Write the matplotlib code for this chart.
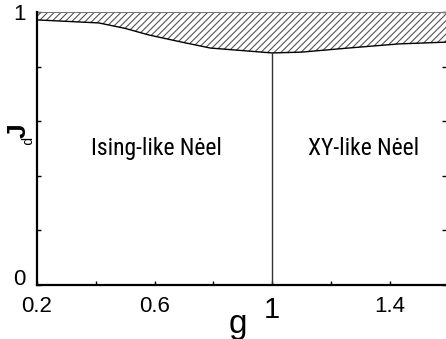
import matplotlib.pyplot as plt
from matplotlib import font_manager
from matplotlib.ticker import FixedLocator

# upper boundary of the Neel phase
g_boundary = [0.2, 0.41, 0.5, 0.58, 0.7, 0.79, 1.0, 1.1, 1.26, 1.43, 1.6]
jp_boundary = [0.971, 0.96, 0.94, 0.916, 0.888, 0.868, 0.85, 0.853, 0.868, 0.883, 0.89]

g_critical = 1.0
x_ticks = [0.2, 0.4, 0.6, 0.8, 1.0, 1.2, 1.4, 1.6]
x_tick_labels = ['0.2', '', '0.6', '', '1', '', '1.4', '']
y_ticks = [0, 0.2, 0.4, 0.6, 0.8, 1.0]
y_tick_labels = ['0', '', '', '', '', '1']
phase_labels = ['Ising-like Nėel', 'XY-like Nėel']

plt.rcParams['font.family'] = ['Liberation Sans', 'DejaVu Sans']
plt.rcParams['hatch.linewidth'] = 0.8

# the phase labels are set in a narrow face; use one if it is installed
installed = {f.name for f in font_manager.fontManager.ttflist}
narrow_face = next((n for n in ['Liberation Sans Narrow', 'Roboto Condensed',
                                'DejaVu Sans Condensed'] if n in installed), None)
if narrow_face:
    phase_font = [narrow_face, 'DejaVu Sans']
    phase_size = 17
else:
    phase_font = ['Liberation Sans', 'DejaVu Sans']
    phase_size = 15.5

W, H = 446, 339
fig = plt.figure(figsize=(W / 100, H / 100), dpi=100)
ax = fig.add_axes([37 / W, 54 / H, (446 - 37) / W, 273 / H])

ax.fill_between(g_boundary, jp_boundary, 1.0, facecolor='white',
                edgecolor='#555555', hatch='/////', linewidth=0)
ax.plot(g_boundary, jp_boundary, color='black', lw=1.0)
ax.axhline(1.0, color='#777777', lw=1.5)
crit_top = jp_boundary[g_boundary.index(g_critical)]
ax.plot([g_critical, g_critical], [0, crit_top], color='#333333', lw=1.0)

ax.set_xlim(0.2, 1.592)
ax.set_ylim(0, 1)
ax.xaxis.set_major_locator(FixedLocator(x_ticks))
ax.set_xticklabels(x_tick_labels)
ax.yaxis.set_major_locator(FixedLocator(y_ticks))
ax.set_yticklabels(y_tick_labels)
ax.tick_params(axis='x', direction='in', length=3, width=1, labelsize=16, pad=8)
ax.tick_params(axis='y', direction='in', length=3, width=1, labelsize=16, pad=8,
               right=True)
ax.get_xticklabels()[4].set_fontsize(21)
ax.get_yticklabels()[0].set_verticalalignment('baseline')

for side in ['top', 'right']:
    ax.spines[side].set_visible(False)
for side in ['left', 'bottom']:
    ax.spines[side].set_linewidth(1.6)

ax.text(156 / W, 1 - 155 / H, phase_labels[0], transform=fig.transFigure,
        ha='center', va='baseline', fontsize=phase_size, family=phase_font)
ax.text(364 / W, 1 - 155 / H, phase_labels[1], transform=fig.transFigure,
        ha='center', va='baseline', fontsize=phase_size, family=phase_font)

# axis titles
fig.text(238 / W, 1 - 333 / H, 'g', ha='center', va='baseline', fontsize=24)
fig.text(19 / W, 1 - 131 / H, 'J', ha='center', va='center', rotation=90,
         fontsize=19, fontweight='bold')
fig.text(26 / W, 1 - 141 / H, 'p', ha='center', va='center', rotation=270,
         fontsize=10)

fig.savefig('out.png', dpi=100)
